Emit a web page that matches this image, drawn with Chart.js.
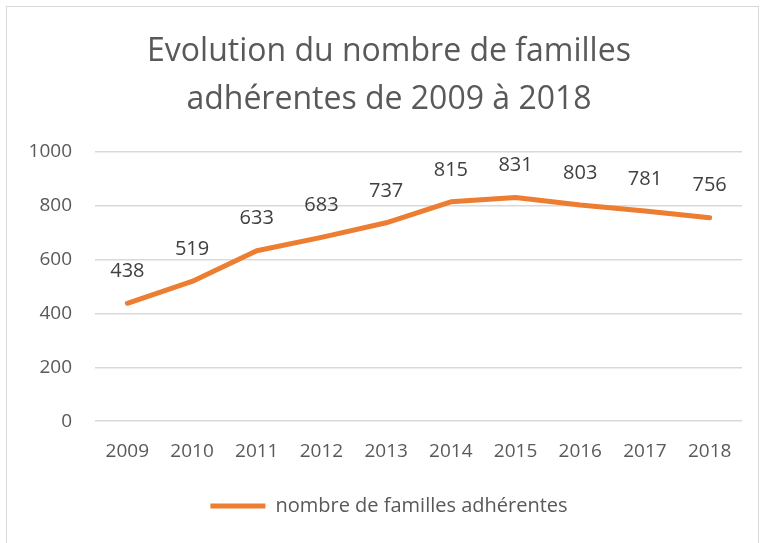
<!doctype html>
<html lang="fr">
<head>
  <meta charset="utf-8">
  <title>familles adhérentes</title>
  <style>
    html, body { margin: 0; padding: 0; background: #fff; }
    #wrap { position: relative; width: 762px; height: 543px; overflow: hidden; }
    #frame { position: absolute; left: 6px; top: 6px; width: 751px; height: 560px; border: 1px solid #d9d9d9; }
    #myChart { position: absolute; left: 0; top: 0; }
  </style>
</head>
<body>
  <div id="wrap">
    <div id="frame"></div>
    <canvas id="myChart" width="762" height="543"></canvas>
  </div>

  <script src="https://cdn.jsdelivr.net/npm/chart.js@4.4.1/dist/chart.umd.min.js"></script>
  <script>
  var years = ['2009', '2010', '2011', '2012', '2013', '2014', '2015', '2016', '2017', '2018'];
  var familles = [438, 519, 633, 683, 737, 815, 831, 803, 781, 756];
  var titleLines = ['Evolution du nombre de familles', 'adhérentes de 2009 à 2018'];
  var seriesName = 'nombre de familles adhérentes';

  var FONT = '"Open Sans", sans-serif';

  // values written above each point
  var pointLabels = {
    id: 'pointLabels',
    afterDatasetsDraw: function(chart) {
      var ctx = chart.ctx;
      var meta = chart.getDatasetMeta(0);
      ctx.save();
      ctx.font = '20px ' + FONT;
      ctx.fillStyle = '#404040';
      ctx.textAlign = 'center';
      ctx.textBaseline = 'middle';
      meta.data.forEach(function(pt, i) {
        ctx.fillText(String(chart.data.datasets[0].data[i]), pt.x, pt.y - 32);
      });
      ctx.restore();
    }
  };

  var ctx = document.getElementById('myChart').getContext('2d');
  var chart = new Chart(ctx, {
    type: 'line',
    data: {
      labels: years,
      datasets: [{
        label: seriesName,
        data: familles,
        borderColor: '#ED7D31',
        backgroundColor: '#ED7D31',
        borderWidth: 5,
        borderCapStyle: 'round',
        borderJoinStyle: 'round',
        pointRadius: 0,
        tension: 0
      }]
    },
    options: {
      responsive: false,
      animation: false,
      layout: { padding: { top: 20, right: 4, bottom: 17, left: 20 } },
      plugins: {
        title: {
          display: true,
          text: titleLines,
          color: '#595959',
          font: { family: FONT, size: 32, weight: 'normal', lineHeight: 1.5 },
          padding: { top: 8, bottom: 28 }
        },
        legend: {
          position: 'bottom',
          labels: {
            usePointStyle: true,
            pointStyle: 'line',
            pointStyleWidth: 55,
            color: '#595959',
            font: { family: FONT, size: 20 },
            padding: 22
          }
        },
        tooltip: { enabled: false }
      },
      scales: {
        x: {
          offset: true,
          grid: { display: false },
          border: { display: false },
          ticks: { color: '#595959', font: { family: FONT, size: 19 }, padding: 11 }
        },
        y: {
          min: 0,
          max: 1000,
          afterFit: function(scale) { scale.width = 75; },
          grid: { color: '#d9d9d9', lineWidth: 1.5, drawTicks: false },
          border: { display: false },
          ticks: {
            stepSize: 200,
            color: '#595959',
            font: { family: FONT, size: 19 },
            padding: 23,
            callback: function(v) { return String(v); }
          }
        },
        // empty right margin so the plot stops short of the frame
        yRight: {
          position: 'right',
          afterFit: function(scale) { scale.width = 16; },
          grid: { display: false },
          border: { display: false },
          ticks: { display: false }
        }
      }
    },
    plugins: [pointLabels]
  });
  </script>
</body>
</html>
